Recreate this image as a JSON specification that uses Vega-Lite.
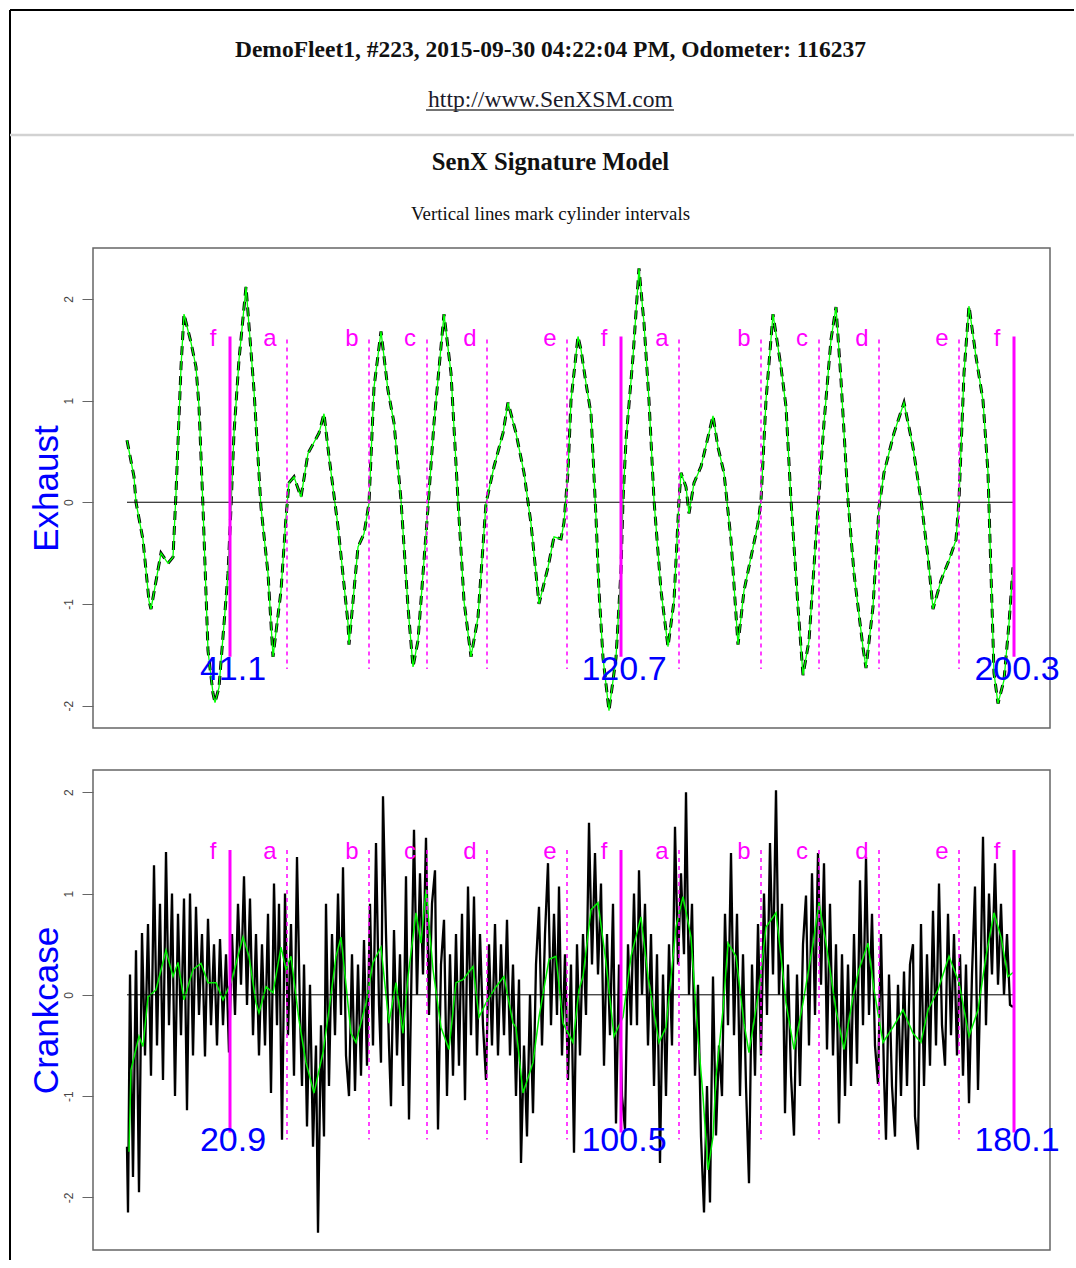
{
  "$schema": "https://vega.github.io/schema/vega-lite/v6.json",
  "padding": {"left": 8, "top": 9, "right": 0, "bottom": 0},
  "background": "white",
  "bounds": "flush",
  "spacing": 42,
  "config": {"view": {"stroke": null}, "font": "Liberation Sans"},
  "datasets": {
    "exhaust": [
      {"i":0,"v":0.61},{"i":7,"v":0.25},{"i":9,"v":0.0},{"i":16,"v":-0.37},{"i":22,"v":-0.97},{"i":24,"v":-1.05},{"i":34,"v":-0.5},{"i":41,"v":-0.6},{"i":46,"v":-0.54},{"i":49,"v":0.09},{"i":54,"v":1.33},{"i":57,"v":1.85},{"i":64,"v":1.57},{"i":69,"v":1.33},{"i":72,"v":0.94},{"i":76,"v":-0.05},{"i":81,"v":-1.46},{"i":86,"v":-1.88},{"i":88,"v":-1.97},{"i":92,"v":-1.82},{"i":101,"v":-0.7},{"i":104,"v":-0.05},{"i":107,"v":0.68},{"i":112,"v":1.4},{"i":119,"v":2.12},{"i":127,"v":1.1},{"i":134,"v":-0.05},{"i":141,"v":-0.7},{"i":146,"v":-1.52},{"i":154,"v":-0.87},{"i":159,"v":-0.15},{"i":162,"v":0.19},{"i":167,"v":0.25},{"i":174,"v":0.05},{"i":181,"v":0.48},{"i":192,"v":0.68},{"i":197,"v":0.87},{"i":202,"v":0.45},{"i":211,"v":-0.24},{"i":221,"v":-1.19},{"i":222,"v":-1.4},{"i":231,"v":-0.44},{"i":237,"v":-0.31},{"i":242,"v":-0.01},{"i":247,"v":1.13},{"i":254,"v":1.68},{"i":261,"v":1.1},{"i":267,"v":0.78},{"i":274,"v":0.02},{"i":281,"v":-1.03},{"i":286,"v":-1.62},{"i":291,"v":-1.36},{"i":301,"v":-0.05},{"i":307,"v":0.78},{"i":317,"v":1.85},{"i":324,"v":1.27},{"i":331,"v":0.02},{"i":337,"v":-0.97},{"i":344,"v":-1.52},{"i":351,"v":-1.13},{"i":359,"v":-0.01},{"i":367,"v":0.35},{"i":376,"v":0.68},{"i":381,"v":0.98},{"i":389,"v":0.68},{"i":397,"v":0.29},{"i":404,"v":-0.21},{"i":412,"v":-1.0},{"i":421,"v":-0.64},{"i":427,"v":-0.34},{"i":434,"v":-0.36},{"i":437,"v":-0.2},{"i":441,"v":0.3},{"i":444,"v":1.0},{"i":451,"v":1.63},{"i":454,"v":1.5},{"i":459,"v":1.17},{"i":464,"v":0.87},{"i":469,"v":-0.15},{"i":472,"v":-0.87},{"i":476,"v":-1.53},{"i":482,"v":-2.05},{"i":489,"v":-1.53},{"i":494,"v":-0.67},{"i":496,"v":0.02},{"i":499,"v":0.61},{"i":506,"v":1.43},{"i":512,"v":2.3},{"i":517,"v":1.76},{"i":522,"v":1.0},{"i":527,"v":0.02},{"i":534,"v":-0.87},{"i":541,"v":-1.42},{"i":547,"v":-0.97},{"i":552,"v":0.02},{"i":554,"v":0.29},{"i":559,"v":0.15},{"i":562,"v":-0.11},{"i":567,"v":0.19},{"i":574,"v":0.35},{"i":581,"v":0.64},{"i":586,"v":0.85},{"i":591,"v":0.54},{"i":597,"v":0.29},{"i":604,"v":-0.37},{"i":611,"v":-1.4},{"i":617,"v":-0.87},{"i":624,"v":-0.54},{"i":631,"v":-0.21},{"i":634,"v":0.02},{"i":639,"v":1.0},{"i":646,"v":1.85},{"i":654,"v":1.33},{"i":659,"v":0.94},{"i":664,"v":0.02},{"i":671,"v":-1.03},{"i":676,"v":-1.7},{"i":682,"v":-1.36},{"i":691,"v":-0.05},{"i":697,"v":0.78},{"i":704,"v":1.6},{"i":709,"v":1.92},{"i":714,"v":1.2},{"i":721,"v":0.02},{"i":727,"v":-0.7},{"i":736,"v":-1.43},{"i":739,"v":-1.63},{"i":746,"v":-1.03},{"i":752,"v":-0.05},{"i":757,"v":0.29},{"i":767,"v":0.68},{"i":777,"v":0.98},{"i":786,"v":0.54},{"i":794,"v":0.02},{"i":801,"v":-0.54},{"i":806,"v":-1.05},{"i":814,"v":-0.77},{"i":822,"v":-0.57},{"i":829,"v":-0.37},{"i":832,"v":0.02},{"i":837,"v":1.27},{"i":842,"v":1.93},{"i":849,"v":1.43},{"i":856,"v":1.0},{"i":861,"v":0.29},{"i":864,"v":-0.7},{"i":867,"v":-1.68},{"i":871,"v":-1.98},{"i":877,"v":-1.75},{"i":882,"v":-1.19},{"i":886,"v":-0.64}
    ],
    "crankSmooth": [
      {"i":2,"v":-1.55},{"i":4,"v":-0.74},{"i":12,"v":-0.41},{"i":16,"v":-0.51},{"i":21,"v":-0.02},{"i":29,"v":0.05},{"i":39,"v":0.44},{"i":46,"v":0.18},{"i":51,"v":0.32},{"i":57,"v":-0.05},{"i":66,"v":0.25},{"i":74,"v":0.31},{"i":81,"v":0.12},{"i":89,"v":0.12},{"i":96,"v":-0.05},{"i":104,"v":0.12},{"i":116,"v":0.57},{"i":122,"v":0.38},{"i":129,"v":-0.08},{"i":132,"v":-0.18},{"i":139,"v":0.08},{"i":146,"v":0.02},{"i":154,"v":0.47},{"i":159,"v":0.25},{"i":164,"v":0.38},{"i":172,"v":-0.25},{"i":179,"v":-0.67},{"i":187,"v":-0.97},{"i":196,"v":-0.57},{"i":202,"v":-0.15},{"i":209,"v":0.38},{"i":214,"v":0.57},{"i":219,"v":0.1},{"i":224,"v":-0.38},{"i":229,"v":-0.47},{"i":239,"v":-0.08},{"i":246,"v":0.32},{"i":254,"v":0.47},{"i":262,"v":-0.28},{"i":269,"v":0.12},{"i":276,"v":-0.38},{"i":281,"v":0.18},{"i":289,"v":0.81},{"i":294,"v":0.51},{"i":299,"v":1.04},{"i":306,"v":0.25},{"i":314,"v":-0.32},{"i":322,"v":-0.54},{"i":329,"v":0.12},{"i":336,"v":0.15},{"i":346,"v":0.28},{"i":352,"v":-0.22},{"i":359,"v":-0.08},{"i":369,"v":0.08},{"i":377,"v":0.18},{"i":386,"v":-0.28},{"i":389,"v":-0.32},{"i":396,"v":-0.97},{"i":406,"v":-0.67},{"i":412,"v":-0.22},{"i":422,"v":0.35},{"i":429,"v":0.38},{"i":436,"v":-0.28},{"i":446,"v":-0.47},{"i":452,"v":0.05},{"i":456,"v":0.18},{"i":464,"v":0.84},{"i":471,"v":0.91},{"i":479,"v":0.32},{"i":487,"v":-0.41},{"i":496,"v":-0.22},{"i":504,"v":0.38},{"i":514,"v":0.77},{"i":521,"v":0.18},{"i":532,"v":-0.47},{"i":539,"v":-0.32},{"i":549,"v":0.67},{"i":556,"v":0.97},{"i":564,"v":0.57},{"i":571,"v":-0.41},{"i":576,"v":-1.0},{"i":581,"v":-1.73},{"i":586,"v":-1.4},{"i":589,"v":-0.81},{"i":596,"v":-0.15},{"i":601,"v":0.51},{"i":609,"v":0.38},{"i":617,"v":-0.28},{"i":622,"v":-0.57},{"i":632,"v":0.05},{"i":639,"v":0.67},{"i":649,"v":0.81},{"i":654,"v":0.38},{"i":659,"v":-0.08},{"i":667,"v":-0.54},{"i":676,"v":-0.08},{"i":686,"v":0.5},{"i":692,"v":0.91},{"i":699,"v":0.51},{"i":709,"v":-0.15},{"i":717,"v":-0.54},{"i":726,"v":-0.02},{"i":732,"v":0.25},{"i":741,"v":0.51},{"i":747,"v":0.05},{"i":756,"v":-0.47},{"i":766,"v":-0.32},{"i":776,"v":-0.15},{"i":786,"v":-0.38},{"i":794,"v":-0.47},{"i":801,"v":-0.15},{"i":811,"v":0.05},{"i":822,"v":0.38},{"i":832,"v":0.12},{"i":842,"v":-0.41},{"i":851,"v":-0.15},{"i":859,"v":0.38},{"i":867,"v":0.81},{"i":874,"v":0.57},{"i":881,"v":0.18},{"i":886,"v":0.22}
    ],
    "crankRaw": [
      {"i":0,"v":-1.5},{"i":1,"v":-2.15},{"i":3,"v":0.2},{"i":6,"v":-1.8},{"i":9,"v":0.44},{"i":12,"v":-1.95},{"i":15,"v":0.61},{"i":18,"v":-0.6},{"i":21,"v":0.7},{"i":24,"v":-0.8},{"i":27,"v":1.28},{"i":30,"v":-0.5},
      {"i":33,"v":0.9},{"i":36,"v":-0.84},{"i":39,"v":1.41},{"i":42,"v":-0.3},{"i":45,"v":1.0},{"i":48,"v":-1.0},{"i":51,"v":0.8},{"i":54,"v":-0.4},{"i":57,"v":0.95},{"i":60,"v":-1.14},
      {"i":63,"v":1.0},{"i":66,"v":-0.6},{"i":69,"v":0.87},{"i":72,"v":-0.2},{"i":75,"v":0.6},{"i":78,"v":-0.61},{"i":81,"v":0.75},{"i":84,"v":-0.3},{"i":87,"v":0.5},{"i":90,"v":-0.5},{"i":93,"v":0.55},{"i":96,"v":-0.3},{"i":99,"v":0.4},{"i":102,"v":-0.57},{"i":105,"v":0.6},
      {"i":108,"v":-0.2},{"i":111,"v":0.9},{"i":114,"v":0.1},{"i":117,"v":1.17},{"i":120,"v":-0.1},{"i":123,"v":0.95},{"i":126,"v":-0.4},{"i":129,"v":0.6},{"i":132,"v":-0.6},{"i":135,"v":0.5},
      {"i":138,"v":-0.5},{"i":141,"v":0.8},{"i":144,"v":-0.97},{"i":147,"v":1.1},{"i":150,"v":-0.3},{"i":152,"v":0.9},{"i":155,"v":-1.43},{"i":158,"v":1.0},{"i":161,"v":-0.4},{"i":164,"v":0.7},{"i":167,"v":-0.8},{"i":170,"v":1.36},{"i":173,"v":-0.2},{"i":175,"v":-0.9},
      {"i":177,"v":0.3},{"i":180,"v":-1.3},{"i":183,"v":0.1},{"i":186,"v":-1.5},{"i":189,"v":-0.5},{"i":191,"v":-2.35},{"i":194,"v":-0.3},{"i":197,"v":-1.4},{"i":199,"v":0.9},{"i":202,"v":-0.9},{"i":205,"v":0.6},
      {"i":208,"v":-0.4},{"i":211,"v":1.0},{"i":214,"v":-0.2},{"i":216,"v":1.26},{"i":219,"v":-0.6},{"i":222,"v":-1.0},{"i":225,"v":0.4},
      {"i":228,"v":-0.95},{"i":231,"v":0.3},{"i":234,"v":-0.8},{"i":237,"v":0.54},{"i":240,"v":-0.7},{"i":243,"v":0.9},{"i":246,"v":-0.5},{"i":249,"v":1.5},{"i":252,"v":-0.1},{"i":254,"v":-0.67},{"i":256,"v":1.96},{"i":259,"v":0.6},{"i":262,"v":-0.5},{"i":264,"v":-1.1},{"i":267,"v":0.64},
      {"i":270,"v":-0.6},{"i":273,"v":0.4},{"i":276,"v":-0.9},{"i":279,"v":1.17},{"i":282,"v":-1.23},{"i":285,"v":0.5},{"i":287,"v":1.63},{"i":290,"v":0.0},{"i":293,"v":1.2},{"i":296,"v":0.2},{"i":299,"v":1.55},{"i":302,"v":-0.2},
      {"i":305,"v":0.9},{"i":308,"v":1.23},{"i":311,"v":-1.33},{"i":314,"v":0.3},{"i":317,"v":0.74},{"i":320,"v":-1.0},{"i":323,"v":0.4},{"i":326,"v":-0.8},{"i":329,"v":0.6},{"i":332,"v":-0.7},{"i":335,"v":0.8},{"i":338,"v":-1.04},{"i":341,"v":1.07},
      {"i":344,"v":-0.4},{"i":347,"v":0.97},{"i":350,"v":-0.6},{"i":353,"v":0.6},{"i":356,"v":-0.3},{"i":359,"v":-0.84},{"i":362,"v":0.5},{"i":365,"v":-0.5},{"i":368,"v":0.7},{"i":371,"v":-0.6},{"i":374,"v":0.5},{"i":377,"v":-0.4},{"i":380,"v":0.74},
      {"i":383,"v":-0.6},{"i":386,"v":0.3},{"i":389,"v":-1.0},{"i":392,"v":0.15},{"i":394,"v":-1.66},{"i":397,"v":-0.5},{"i":400,"v":-1.4},{"i":403,"v":0.0},{"i":406,"v":-1.17},{"i":409,"v":0.3},{"i":412,"v":0.87},{"i":415,"v":-0.5},{"i":418,"v":0.6},{"i":421,"v":1.3},
      {"i":424,"v":-0.3},{"i":427,"v":0.8},{"i":430,"v":-0.2},{"i":432,"v":1.07},{"i":435,"v":-0.6},{"i":438,"v":0.4},{"i":441,"v":-0.84},{"i":444,"v":0.3},{"i":447,"v":-1.56},{"i":450,"v":0.5},
      {"i":453,"v":-0.6},{"i":456,"v":0.6},{"i":459,"v":-0.2},{"i":462,"v":1.7},{"i":465,"v":0.3},{"i":468,"v":1.4},{"i":471,"v":0.2},{"i":474,"v":1.1},{"i":477,"v":-0.7},{"i":480,"v":0.6},{"i":483,"v":-0.4},{"i":486,"v":0.9},{"i":489,"v":-1.27},
      {"i":492,"v":0.3},{"i":495,"v":-1.0},{"i":498,"v":-1.33},{"i":501,"v":0.5},{"i":504,"v":-0.3},{"i":507,"v":1.0},{"i":510,"v":-0.3},{"i":512,"v":1.23},{"i":515,"v":0.0},{"i":518,"v":0.9},{"i":521,"v":-0.5},{"i":524,"v":0.6},{"i":527,"v":-0.9},{"i":530,"v":0.4},
      {"i":533,"v":-1.66},{"i":536,"v":0.2},{"i":539,"v":-1.0},{"i":542,"v":0.5},{"i":545,"v":-0.5},{"i":548,"v":1.66},{"i":551,"v":0.3},{"i":554,"v":1.2},{"i":557,"v":0.4},{"i":559,"v":2.0},{"i":562,"v":0.0},{"i":565,"v":0.9},
      {"i":568,"v":-0.8},{"i":571,"v":0.1},{"i":574,"v":-1.4},{"i":577,"v":-2.15},{"i":580,"v":-0.9},{"i":583,"v":-2.05},{"i":586,"v":0.18},{"i":589,"v":-1.39},{"i":592,"v":-0.5},{"i":595,"v":-1.0},{"i":598,"v":0.8},
      {"i":601,"v":-0.3},{"i":604,"v":1.4},{"i":607,"v":-0.4},{"i":610,"v":0.8},{"i":613,"v":-1.0},{"i":616,"v":0.4},{"i":619,"v":-0.9},{"i":622,"v":-1.86},{"i":625,"v":0.3},{"i":628,"v":-0.8},{"i":631,"v":0.7},{"i":634,"v":-0.6},{"i":637,"v":1.0},{"i":640,"v":-0.2},
      {"i":643,"v":1.5},{"i":646,"v":0.2},{"i":649,"v":2.02},{"i":652,"v":0.0},{"i":655,"v":0.9},{"i":658,"v":-1.17},{"i":661,"v":0.3},{"i":664,"v":-0.8},{"i":667,"v":-1.39},{"i":670,"v":0.2},{"i":673,"v":-0.9},{"i":676,"v":0.5},{"i":679,"v":0.98},{"i":682,"v":-0.5},{"i":685,"v":1.2},{"i":688,"v":-0.2},
      {"i":691,"v":1.4},{"i":694,"v":0.1},{"i":697,"v":1.3},{"i":700,"v":-0.54},{"i":703,"v":0.9},{"i":706,"v":-0.6},{"i":709,"v":0.5},{"i":712,"v":-1.27},{"i":715,"v":0.4},{"i":718,"v":-1.0},{"i":721,"v":0.3},{"i":724,"v":-0.9},{"i":727,"v":0.6},{"i":730,"v":-0.68},
      {"i":733,"v":1.13},{"i":736,"v":-0.3},{"i":739,"v":1.36},{"i":742,"v":-0.2},{"i":745,"v":0.8},{"i":748,"v":-0.5},{"i":751,"v":-0.88},{"i":754,"v":0.6},{"i":757,"v":-0.8},{"i":759,"v":-1.43},{"i":762,"v":0.2},{"i":765,"v":-0.9},{"i":768,"v":-1.4},
      {"i":771,"v":0.1},{"i":774,"v":-1.0},{"i":777,"v":0.23},{"i":780,"v":-0.9},{"i":783,"v":0.3},{"i":786,"v":0.5},{"i":788,"v":-1.2},{"i":791,"v":-1.53},{"i":794,"v":0.7},{"i":797,"v":-0.9},{"i":800,"v":0.4},{"i":803,"v":-0.7},{"i":806,"v":0.83},{"i":809,"v":-0.5},
      {"i":812,"v":1.1},{"i":815,"v":-0.3},{"i":818,"v":-0.7},{"i":821,"v":0.8},{"i":824,"v":-0.4},{"i":827,"v":0.6},{"i":830,"v":-0.6},{"i":833,"v":0.4},{"i":836,"v":-0.8},{"i":839,"v":0.3},{"i":842,"v":-1.07},{"i":845,"v":0.2},{"i":848,"v":1.07},{"i":851,"v":-0.94},
      {"i":854,"v":0.4},{"i":856,"v":1.56},{"i":859,"v":-0.3},{"i":862,"v":1.0},{"i":865,"v":0.2},{"i":868,"v":1.3},{"i":871,"v":0.1},{"i":874,"v":0.9},{"i":877,"v":0.0},{"i":880,"v":0.6},{"i":883,"v":-0.1},{"i":886,"v":-0.12}
    ],
    "cyl": [
      {"i":103,"cyl":"f","kind":"solid"},{"i":160,"cyl":"a","kind":"dashed"},{"i":242,"cyl":"b","kind":"dashed"},{"i":300,"cyl":"c","kind":"dashed"},{"i":360,"cyl":"d","kind":"dashed"},{"i":440,"cyl":"e","kind":"dashed"},{"i":494,"cyl":"f","kind":"solid"},{"i":552,"cyl":"a","kind":"dashed"},{"i":634,"cyl":"b","kind":"dashed"},{"i":692,"cyl":"c","kind":"dashed"},{"i":752,"cyl":"d","kind":"dashed"},{"i":832,"cyl":"e","kind":"dashed"},{"i":887,"cyl":"f","kind":"solid"}
    ],
    "exhaustAngles": [{"i":103,"label":"41.1"},{"i":494,"label":"120.7"},{"i":887,"label":"200.3"}],
    "crankAngles": [{"i":103,"label":"20.9"},{"i":494,"label":"100.5"},{"i":887,"label":"180.1"}]
  },
  "vconcat": [
    {
      "width": 957, "height": 196,
      "data": {"values": [{}]},
      "layer": [
        {"mark": {"type": "rule", "color": "black", "strokeWidth": 2},
         "encoding": {"x": {"datum": -117, "scale": {"domain": [-34, 923], "nice": false, "zero": false}, "axis": null}, "x2": {"datum": 947}, "y": {"datum": 1, "scale": {"domain": [0, 1], "nice": false, "zero": false}, "axis": null}}},
        {"mark": {"type": "rule", "color": "black", "strokeWidth": 2},
         "encoding": {"x": {"datum": -117, "axis": null}, "y": {"datum": 1, "axis": null}, "y2": {"datum": -5.378}}},
        {"mark": {"type": "rule", "color": "#d2d2d2", "strokeWidth": 2.5},
         "encoding": {"x": {"datum": -117, "axis": null}, "x2": {"datum": 947}, "y": {"datum": 0.362, "axis": null}}},
        {"mark": {"type": "text", "text": "DemoFleet1, #223, 2015-09-30 04:22:04 PM, Odometer: 116237", "font": "Liberation Serif", "fontSize": 23.5, "fontWeight": "bold", "align": "center", "baseline": "alphabetic", "color": "#111"},
         "encoding": {"x": {"datum": 423.5, "axis": null}, "y": {"datum": 0.76, "axis": null}}},
        {"mark": {"type": "text", "text": "http://www.SenXSM.com", "font": "Liberation Serif", "fontSize": 23.6, "align": "center", "baseline": "alphabetic", "color": "#1a1a2a"},
         "encoding": {"x": {"datum": 423.5, "axis": null}, "y": {"datum": 0.505, "axis": null}}},
        {"mark": {"type": "rule", "color": "#444", "strokeWidth": 1.6},
         "encoding": {"x": {"datum": 299, "axis": null}, "x2": {"datum": 547}, "y": {"datum": 0.49, "axis": null}}},
        {"mark": {"type": "text", "text": "SenX Signature Model", "font": "Liberation Serif", "fontSize": 24.6, "fontWeight": "bold", "align": "center", "baseline": "alphabetic", "color": "#111"},
         "encoding": {"x": {"datum": 423.5, "axis": null}, "y": {"datum": 0.1837, "axis": null}}},
        {"mark": {"type": "text", "text": "Vertical lines mark cylinder intervals", "font": "Liberation Serif", "fontSize": 18.9, "align": "center", "baseline": "alphabetic", "color": "#111"},
         "encoding": {"x": {"datum": 423.5, "axis": null}, "y": {"datum": -0.0714, "axis": null}}}
      ]
    },
    {
      "width": 957, "height": 480,
      "view": {"stroke": "#666", "strokeWidth": 1.5},
      "layer": [
        {"data": {"name": "exhaust"},
         "mark": {"type": "line", "color": "black", "strokeWidth": 3, "strokeDash": [9, 6]},
         "encoding": {
           "x": {"field": "i", "type": "quantitative", "scale": {"domain": [-34, 923], "nice": false, "zero": false}, "axis": null},
           "y": {"field": "v", "type": "quantitative", "scale": {"domain": [-2.22, 2.5], "nice": false, "zero": false},
                 "axis": {"title": "Exhaust", "titleColor": "#0000ff", "titleFont": "Liberation Sans", "titleFontSize": 35, "titleFontWeight": "normal", "titlePadding": -2,
                          "values": [-2, -1, 0, 1, 2], "labelExpr": "'' + datum.value", "labelAngle": 270, "labelAlign": "center", "labelBaseline": "bottom",
                          "labelFont": "Liberation Sans", "labelFontSize": 12, "labelColor": "#444", "labelPadding": 7, "tickSize": 11, "tickColor": "#666", "domain": false, "grid": false}}}},
        {"data": {"name": "exhaust"},
         "mark": {"type": "line", "color": "#00ff00", "strokeWidth": 1.3},
         "encoding": {"x": {"field": "i", "type": "quantitative"}, "y": {"field": "v", "type": "quantitative"}}},
        {"data": {"values": [{}]},
         "mark": {"type": "rule", "color": "black", "strokeWidth": 1},
         "encoding": {"x": {"datum": 0}, "x2": {"datum": 886}, "y": {"datum": 0}}},
        {"data": {"name": "cyl"}, "transform": [{"filter": "datum.kind == 'dashed'"}],
         "mark": {"type": "rule", "color": "#ff00ff", "strokeWidth": 1.5, "strokeDash": [4, 4]},
         "encoding": {"x": {"field": "i", "type": "quantitative"}, "y": {"datum": 1.6}, "y2": {"datum": -1.64}}},
        {"data": {"name": "cyl"}, "transform": [{"filter": "datum.kind == 'solid'"}],
         "mark": {"type": "rule", "color": "#ff00ff", "strokeWidth": 3},
         "encoding": {"x": {"field": "i", "type": "quantitative"}, "y": {"datum": 1.63}, "y2": {"datum": -1.52}}},
        {"data": {"name": "cyl"},
         "mark": {"type": "text", "color": "#ff00ff", "font": "Liberation Sans", "fontSize": 24, "dx": -17, "align": "center", "baseline": "middle"},
         "encoding": {"x": {"field": "i", "type": "quantitative"}, "y": {"datum": 1.61}, "text": {"field": "cyl"}}},
        {"data": {"name": "exhaustAngles"},
         "mark": {"type": "text", "color": "#0000ff", "font": "Liberation Sans", "fontSize": 34, "dx": 3, "align": "center", "baseline": "middle"},
         "encoding": {"x": {"field": "i", "type": "quantitative"}, "y": {"datum": -1.65}, "text": {"field": "label"}}}
      ]
    },
    {
      "width": 957, "height": 480,
      "view": {"stroke": "#666", "strokeWidth": 1.5},
      "layer": [
        {"data": {"name": "crankRaw"},
         "mark": {"type": "line", "color": "black", "strokeWidth": 2.3},
         "encoding": {
           "x": {"field": "i", "type": "quantitative", "scale": {"domain": [-34, 923], "nice": false, "zero": false}, "axis": null},
           "y": {"field": "v", "type": "quantitative", "scale": {"domain": [-2.52, 2.22], "nice": false, "zero": false},
                 "axis": {"title": "Crankcase", "titleColor": "#0000ff", "titleFont": "Liberation Sans", "titleFontSize": 35, "titleFontWeight": "normal", "titlePadding": -2,
                          "values": [-2, -1, 0, 1, 2], "labelExpr": "'' + datum.value", "labelAngle": 270, "labelAlign": "center", "labelBaseline": "bottom",
                          "labelFont": "Liberation Sans", "labelFontSize": 12, "labelColor": "#444", "labelPadding": 7, "tickSize": 11, "tickColor": "#666", "domain": false, "grid": false}}}},
        {"data": {"name": "crankSmooth"},
         "mark": {"type": "line", "color": "#00ee00", "strokeWidth": 1.5},
         "encoding": {"x": {"field": "i", "type": "quantitative"}, "y": {"field": "v", "type": "quantitative"}}},
        {"data": {"values": [{}]},
         "mark": {"type": "rule", "color": "black", "strokeWidth": 1},
         "encoding": {"x": {"datum": 0}, "x2": {"datum": 886}, "y": {"datum": 0}}},
        {"data": {"name": "cyl"}, "transform": [{"filter": "datum.kind == 'dashed'"}],
         "mark": {"type": "rule", "color": "#ff00ff", "strokeWidth": 1.5, "strokeDash": [4, 4]},
         "encoding": {"x": {"field": "i", "type": "quantitative"}, "y": {"datum": 1.43}, "y2": {"datum": -1.43}}},
        {"data": {"name": "cyl"}, "transform": [{"filter": "datum.kind == 'solid'"}],
         "mark": {"type": "rule", "color": "#ff00ff", "strokeWidth": 3},
         "encoding": {"x": {"field": "i", "type": "quantitative"}, "y": {"datum": 1.43}, "y2": {"datum": -1.36}}},
        {"data": {"name": "cyl"},
         "mark": {"type": "text", "color": "#ff00ff", "font": "Liberation Sans", "fontSize": 24, "dx": -17, "align": "center", "baseline": "middle"},
         "encoding": {"x": {"field": "i", "type": "quantitative"}, "y": {"datum": 1.41}, "text": {"field": "cyl"}}},
        {"data": {"name": "crankAngles"},
         "mark": {"type": "text", "color": "#0000ff", "font": "Liberation Sans", "fontSize": 34, "dx": 3, "align": "center", "baseline": "middle"},
         "encoding": {"x": {"field": "i", "type": "quantitative"}, "y": {"datum": -1.44}, "text": {"field": "label"}}}
      ]
    }
  ]
}
